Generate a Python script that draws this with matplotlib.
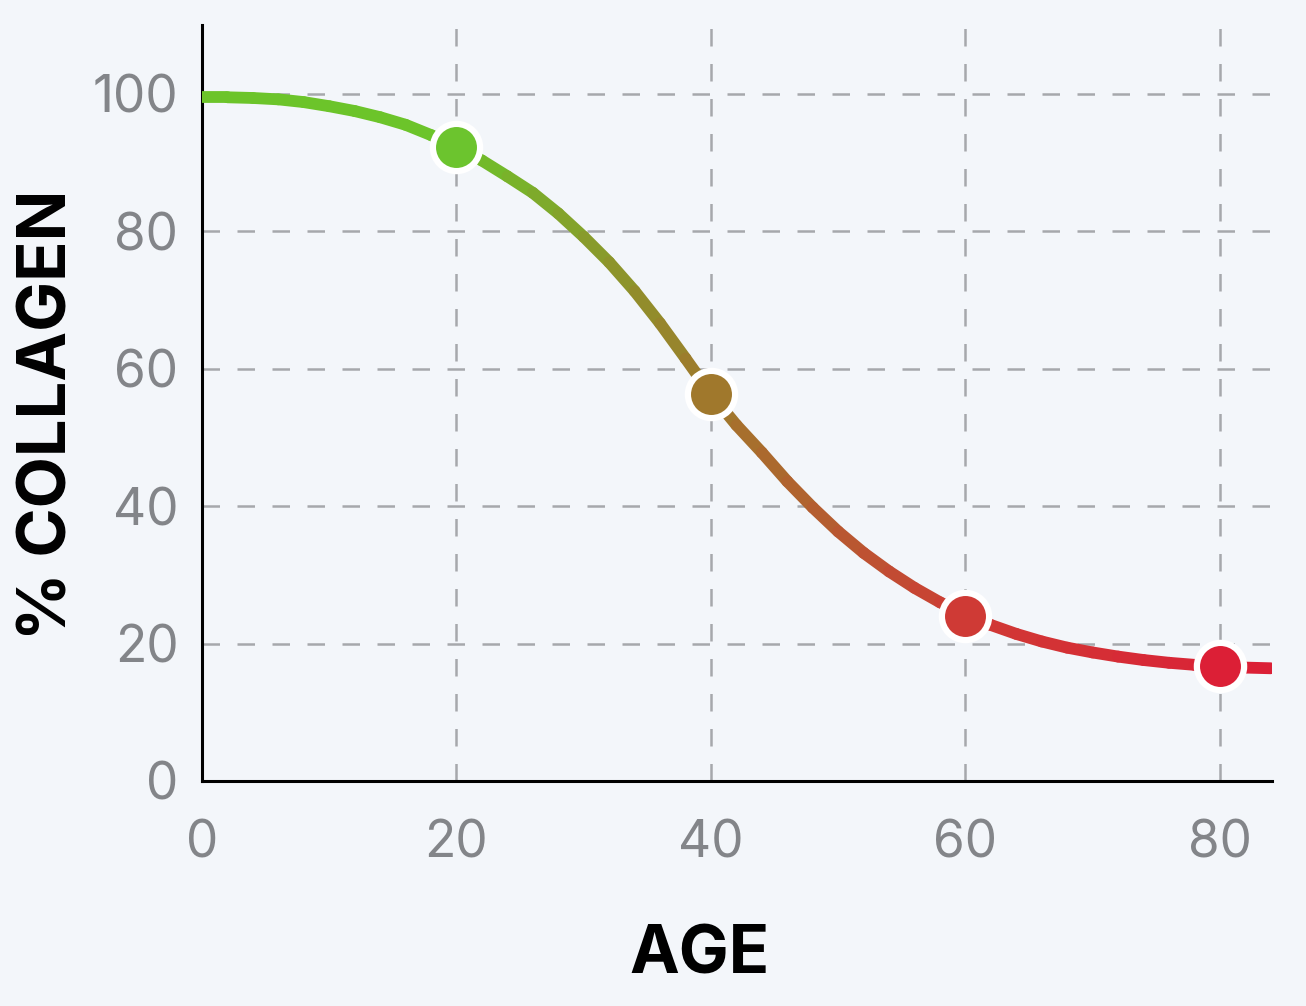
import numpy as np
import matplotlib
matplotlib.use("Agg")
import matplotlib.pyplot as plt
from matplotlib.collections import LineCollection
from matplotlib.colors import LinearSegmentedColormap

# curve, every 2 years
ages = [0, 2, 4, 6, 8, 10, 12, 14, 16, 18, 20, 22, 24, 26, 28, 30, 32, 34, 36, 38, 40, 42,
        44, 46, 48, 50, 52, 54, 56, 58, 60, 62, 64, 66, 68, 70, 72, 74, 76, 78, 80, 82, 84]
collagen = [99.5, 99.5, 99.4, 99.2, 98.8, 98.2, 97.5, 96.6, 95.5, 94.0, 92.3, 90.3, 88.0,
            85.6, 82.6, 79.2, 75.5, 71.3, 66.6, 61.5, 56.3, 51.8, 47.8, 43.6, 39.8, 36.3,
            33.2, 30.5, 28.1, 26.0, 24.2, 22.7, 21.4, 20.3, 19.4, 18.7, 18.1, 17.6, 17.2,
            16.9, 16.7, 16.5, 16.4]

marker_ages = [20, 40, 60, 80]
marker_values = [92.3, 56.3, 24.0, 16.7]
marker_colors = ["#6cc42e", "#a0782c", "#cf3a35", "#dc1f36"]

x_ticks = [0, 20, 40, 60, 80]
y_ticks = [0, 20, 40, 60, 80, 100]

bg = "#f3f6fa"
grey = "#838589"

fig = plt.figure(figsize=(13.06, 10.06), dpi=100, facecolor=bg)
ax = fig.add_axes([0.1547, 0.2237, 0.8193, 0.7513], facecolor=bg)

# gradient line: colour follows age
cmap = LinearSegmentedColormap.from_list(
    "collagen",
    [(0.0, "#6cc42a"), (0.24, "#6cc42a"), (0.48, "#a0782c"),
     (0.72, "#cf3a35"), (1.0, "#dc1f36")])
x = np.array(ages, dtype=float)
y = np.array(collagen, dtype=float)
pts = np.column_stack([x, y]).reshape(-1, 1, 2)
segs = np.concatenate([pts[:-1], pts[1:]], axis=1)
lc = LineCollection(segs, cmap=cmap, norm=plt.Normalize(0, 84),
                    linewidth=8.5, capstyle="round", joinstyle="round", zorder=3)
lc.set_array((x[:-1] + x[1:]) / 2)
ax.add_collection(lc)

for a, v, c in zip(marker_ages, marker_values, marker_colors):
    ax.plot(a, v, "o", ms=34, mfc=c, mec="white", mew=4.5, zorder=4)

ax.set_xlim(0, 84.1)
ax.set_ylim(0, 110)
ax.set_xticks(x_ticks)
ax.set_yticks(y_ticks)

ax.grid(True, color="#a6a8ac", linewidth=1.8, linestyle=(0, (7, 7)), zorder=1)
ax.set_axisbelow(True)
# hide gridlines at 0 (they sit on the spines anyway)
ax.xaxis.get_gridlines()[0].set_visible(False)
ax.yaxis.get_gridlines()[0].set_visible(False)

for s in ["top", "right"]:
    ax.spines[s].set_visible(False)
for s in ["left", "bottom"]:
    ax.spines[s].set_linewidth(2.2)
    ax.spines[s].set_color("black")

ax.tick_params(length=0, labelsize=37, labelcolor=grey)
ax.tick_params(axis="x", pad=28)
ax.tick_params(axis="y", pad=17)
for lab in ax.get_xticklabels() + ax.get_yticklabels():
    lab.set_fontfamily(["Inter", "DejaVu Sans"])
    lab.set_fontweight("normal")

ax.set_xlabel("AGE", fontsize=48, fontweight="bold", family=["Inter", "DejaVu Sans"],
              color="black", va="center")
ax.xaxis.set_label_coords(0.465, -0.232)
ax.set_ylabel("% COLLAGEN", fontsize=48, fontweight="bold", family=["Inter", "DejaVu Sans"],
              color="black", va="center")
ax.yaxis.set_label_coords(-0.143, 0.484)

fig.savefig("out.png", dpi=100, facecolor=bg)
